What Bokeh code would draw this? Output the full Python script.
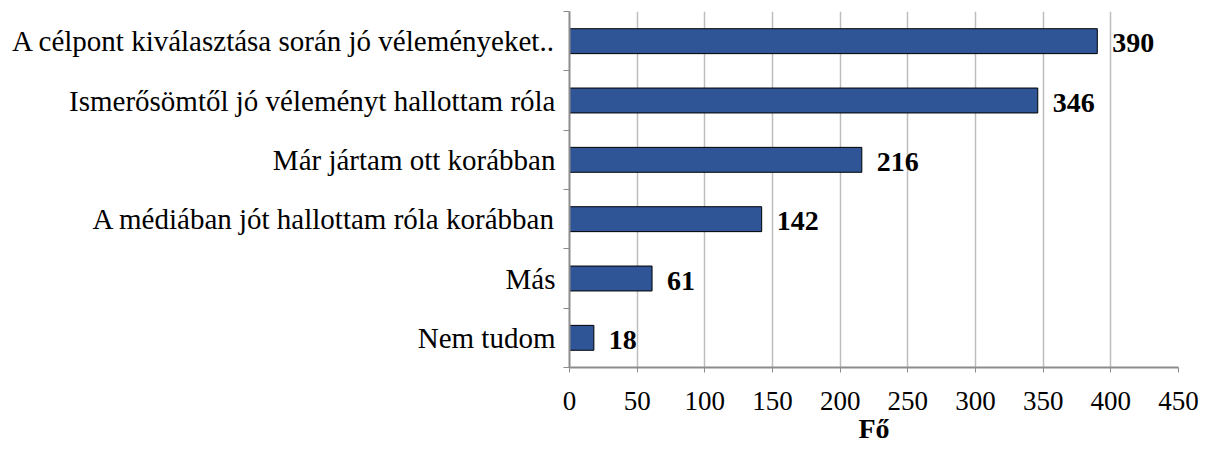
from bokeh.plotting import figure
from bokeh.models import Range1d, FixedTicker, ColumnDataSource
from bokeh.core.properties import value
from bokeh.embed import file_html
from bokeh.resources import INLINE

categories = [
    "A célpont kiválasztása során jó véleményeket..",
    "Ismerősömtől jó véleményt hallottam róla",
    "Már jártam ott korábban",
    "A médiában jót hallottam róla korábban",
    "Más",
    "Nem tudom",
]
values = [390, 346, 216, 142, 61, 18]
x_ticks = [0, 50, 100, 150, 200, 250, 300, 350, 400, 450]
x_title = "Fő"

n = len(categories)
ys = [n - 0.5 - i for i in range(n)]
src = ColumnDataSource(dict(y=ys, v=values, t=[str(v) for v in values]))

FONT = "Liberation Serif"
GRAY = "#8C8C8C"

p = figure(frame_width=609, frame_height=356, output_backend="svg", toolbar_location=None,
           x_range=Range1d(0, 450), y_range=Range1d(0, n),
           min_border_left=569, min_border_right=22, min_border_top=11, min_border_bottom=0)
p.outline_line_color = None
p.background_fill_color = "white"

p.hbar(y="y", right="v", left=0, height=0.42, source=src,
       fill_color="#2F5597", line_color="black", line_width=1)
p.text(x="v", y="y", text="t", source=src, x_offset=15, y_offset=2,
       text_align="left", text_baseline="middle",
       text_font=value(FONT), text_font_style="bold", text_font_size="28px", text_color="black")

# x axis
p.xaxis.ticker = FixedTicker(ticks=x_ticks)
p.xaxis.axis_label = x_title
p.xaxis.axis_label_text_font = FONT
p.xaxis.axis_label_text_font_style = "bold"
p.xaxis.axis_label_text_font_size = "28px"
p.xaxis.axis_label_text_color = "black"
p.xaxis.axis_label_standoff = 0
p.xaxis.major_label_text_font = FONT
p.xaxis.major_label_text_font_size = "27px"
p.xaxis.major_label_text_color = "black"
p.xaxis.major_label_standoff = 19
p.xaxis.axis_line_color = GRAY
p.xaxis.axis_line_width = 2
p.xaxis.major_tick_line_color = GRAY
p.xaxis.major_tick_out = 5
p.xaxis.major_tick_in = 0
p.xaxis.minor_tick_line_color = None

# y axis: labels at category centers, ticks at boundaries
p.yaxis.ticker = FixedTicker(ticks=ys, minor_ticks=list(range(n + 1)))
p.yaxis.major_label_overrides = {y: c for y, c in zip(ys, categories)}
p.yaxis.major_label_text_font = FONT
p.yaxis.major_label_text_font_size = "29px"
p.yaxis.major_label_text_color = "black"
p.yaxis.major_label_standoff = 8
p.yaxis.major_tick_line_color = None
p.yaxis.major_tick_out = 0
p.yaxis.major_tick_in = 0
p.yaxis.minor_tick_line_color = GRAY
p.yaxis.minor_tick_out = 6
p.yaxis.minor_tick_in = 0
p.yaxis.axis_line_color = GRAY
p.yaxis.axis_line_width = 2

p.xgrid.ticker = FixedTicker(ticks=x_ticks)
p.xgrid.grid_line_color = "#BDBDBD"
p.xgrid.grid_line_width = 1.5
p.ygrid.grid_line_color = None

open("out.html", "w").write(file_html(p, INLINE))
